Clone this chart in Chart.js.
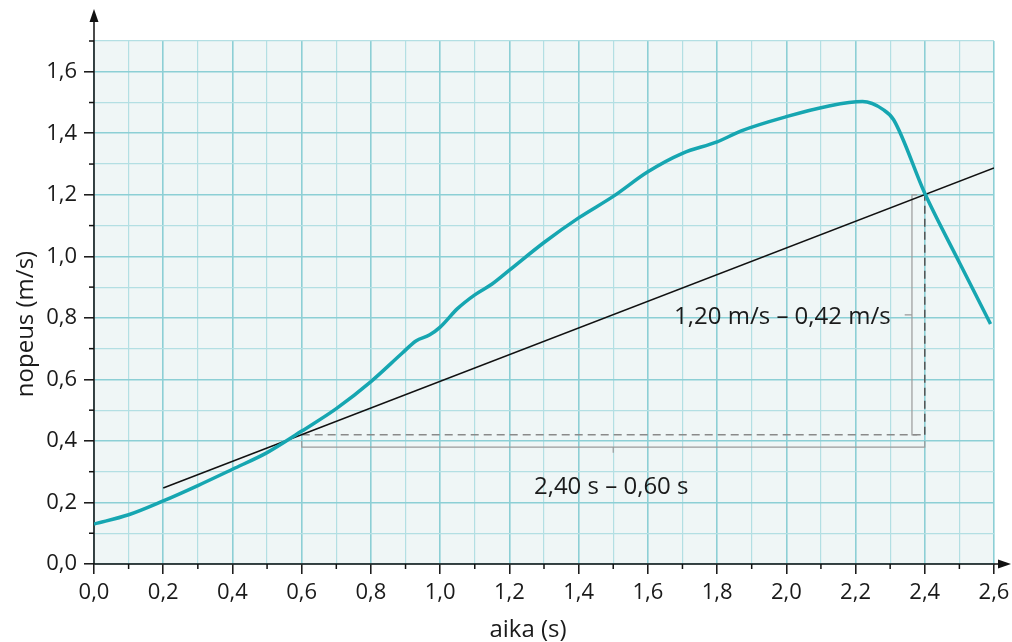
<!DOCTYPE html>
<html lang="fi">
<head>
<meta charset="utf-8">
<title>nopeus – aika</title>
<script src="https://cdn.jsdelivr.net/npm/chart.js@4.4.1/dist/chart.umd.min.js"></script>
<style>
  html, body { margin: 0; padding: 0; background: #fff; }
  #wrap { width: 1012px; height: 642px; }
</style>
</head>
<body>
<div id="wrap"><canvas id="chart" width="1012" height="642"></canvas></div>
<script>
// mittaus: aika (s) ja nopeus (m/s), luettu kuvaajasta
var aika   = [0, 0.1, 0.2, 0.3, 0.4, 0.5, 0.6, 0.7, 0.8, 0.89, 0.93, 0.97, 1.0, 1.05, 1.1, 1.15, 1.2,
              1.3, 1.4, 1.5, 1.6, 1.7, 1.8, 1.87, 2.0, 2.12, 2.22, 2.28, 2.31, 2.4, 2.5, 2.59];
var nopeus = [0.13, 0.16, 0.205, 0.255, 0.308, 0.362, 0.432, 0.505, 0.593, 0.685, 0.725, 0.745, 0.77, 0.83, 0.875, 0.91, 0.955,
              1.045, 1.125, 1.195, 1.275, 1.335, 1.372, 1.408, 1.454, 1.488, 1.503, 1.477, 1.444, 1.205, 0.98, 0.78];

// tangentti
var tangAika   = [0.2, 2.6];
var tangNopeus = [0.247, 1.287];

// apuviivat (katkoviivat)
var vaakaX = [0.6, 2.4];
var vaakaY = [0.42, 0.42];
var pystyX = [2.4, 2.4];
var pystyY = [0.42, 1.2];

// hakasulkeet
var hSulkuX = [0.6, 0.6, 1.5, 1.5, 1.5, 2.4, 2.4];
var hSulkuY = [0.40, 0.38, 0.38, 0.362, 0.38, 0.38, 0.40];
var pSulkuX = [2.378, 2.363, 2.363, 2.342, 2.363, 2.363, 2.378];
var pSulkuY = [1.2, 1.2, 0.81, 0.81, 0.81, 0.42, 0.42];

// akselien merkinnät
var xLabels = ['0,0', '0,2', '0,4', '0,6', '0,8', '1,0', '1,2', '1,4', '1,6', '1,8', '2,0', '2,2', '2,4', '2,6'];
var yLabels = ['0,0', '0,2', '0,4', '0,6', '0,8', '1,0', '1,2', '1,4', '1,6'];
var dyTeksti = '1,20 m/s – 0,42 m/s';
var dxTeksti = '2,40 s – 0,60 s';

function pisteet(xs, ys) {
  return xs.map(function (x, i) { return { x: x, y: ys[i] }; });
}

function onPaa(v) {
  return Math.round(v * 10) % 2 === 0;
}

var FONTTI = '"Open Sans", "Noto Sans", sans-serif';

var piirto = {
  id: 'piirto',
  beforeDraw: function (chart) {
    var a = chart.chartArea, ctx = chart.ctx;
    ctx.save();
    ctx.fillStyle = '#eff6f6';
    ctx.fillRect(a.left, a.top, a.right - a.left, a.bottom - a.top);
    ctx.restore();
  },
  beforeDatasetsDraw: function (chart) {
    var a = chart.chartArea, ctx = chart.ctx;
    var xs = chart.scales.x, ys = chart.scales.y;
    ctx.save();
    ctx.strokeStyle = '#111';
    ctx.fillStyle = '#111';
    ctx.lineWidth = 1.5;
    // pienet jakoviivat
    xs.ticks.forEach(function (t) {
      if (onPaa(t.value)) return;
      var px = xs.getPixelForValue(t.value);
      ctx.beginPath(); ctx.moveTo(px, a.bottom); ctx.lineTo(px, a.bottom + 5); ctx.stroke();
    });
    ys.ticks.forEach(function (t) {
      if (onPaa(t.value)) return;
      var py = ys.getPixelForValue(t.value);
      ctx.beginPath(); ctx.moveTo(a.left, py); ctx.lineTo(a.left - 5, py); ctx.stroke();
    });
    // akselit nuolineen
    ctx.beginPath();
    ctx.moveTo(a.left, a.bottom); ctx.lineTo(a.left, 18);
    ctx.moveTo(a.left, a.bottom); ctx.lineTo(1004, a.bottom);
    ctx.stroke();
    ctx.beginPath();
    ctx.moveTo(a.left, 9); ctx.lineTo(a.left - 4.5, 22); ctx.lineTo(a.left + 4.5, 22); ctx.closePath();
    ctx.fill();
    ctx.beginPath();
    ctx.moveTo(1011, a.bottom); ctx.lineTo(998, a.bottom - 4.5); ctx.lineTo(998, a.bottom + 4.5); ctx.closePath();
    ctx.fill();

    // akselien nimet
    ctx.fillStyle = '#1a1a1a';
    ctx.font = '24px ' + FONTTI;
    ctx.textAlign = 'center';
    ctx.textBaseline = 'alphabetic';
    ctx.fillText('aika (s)', 528, 637);
    ctx.translate(33, 324);
    ctx.rotate(-Math.PI / 2);
    ctx.fillText('nopeus (m/s)', 0, 0);
    ctx.restore();
  },
  afterDatasetsDraw: function (chart) {
    var ctx = chart.ctx;
    var xs = chart.scales.x, ys = chart.scales.y;
    ctx.save();
    ctx.fillStyle = '#1a1a1a';
    ctx.font = '24px ' + FONTTI;
    ctx.textBaseline = 'alphabetic';
    ctx.textAlign = 'right';
    ctx.fillText(dyTeksti, xs.getPixelForValue(pSulkuX[3]) - 14, ys.getPixelForValue(pSulkuY[3]) + 9);
    ctx.textAlign = 'center';
    ctx.fillText(dxTeksti, xs.getPixelForValue(hSulkuX[3]) - 2, ys.getPixelForValue(hSulkuY[3]) + 41);
    ctx.restore();
  }
};

var ctx = document.getElementById('chart').getContext('2d');
new Chart(ctx, {
  type: 'scatter',
  data: {
    datasets: [
      {
        data: pisteet(aika, nopeus),
        showLine: true,
        borderColor: '#16a6b1',
        borderWidth: 3.5,
        pointRadius: 0,
        cubicInterpolationMode: 'monotone'
      },
      {
        data: pisteet(tangAika, tangNopeus),
        showLine: true,
        borderColor: '#111',
        borderWidth: 1.5,
        pointRadius: 0
      },
      {
        data: pisteet(pystyX, pystyY),
        showLine: true,
        borderColor: '#555',
        borderWidth: 1.5,
        borderDash: [8, 5],
        pointRadius: 0
      },
      {
        data: pisteet(vaakaX, vaakaY),
        showLine: true,
        borderColor: '#8a8a8a',
        borderWidth: 1.6,
        borderDash: [8, 5],
        pointRadius: 0
      },
      {
        data: pisteet(hSulkuX, hSulkuY),
        showLine: true,
        borderColor: '#9a9a9a',
        borderWidth: 1.2,
        pointRadius: 0
      },
      {
        data: pisteet(pSulkuX, pSulkuY),
        showLine: true,
        borderColor: '#9a9a9a',
        borderWidth: 1.2,
        pointRadius: 0
      }
    ]
  },
  options: {
    responsive: false,
    animation: false,
    devicePixelRatio: 1,
    layout: { padding: { top: 41, right: 18, left: 0, bottom: 0 } },
    plugins: { legend: { display: false }, tooltip: { enabled: false } },
    scales: {
      x: {
        type: 'linear',
        min: 0,
        max: 2.6,
        afterFit: function (s) { s.height = 78; s.paddingLeft = 0; s.paddingRight = 0; },
        border: { display: false },
        grid: {
          color: function (c) { return onPaa(c.tick.value) ? '#8ccfd5' : '#b3dfe3'; },
          lineWidth: function (c) { return onPaa(c.tick.value) ? 1.6 : 1.2; },
          tickColor: function (c) { return onPaa(c.tick.value) ? '#111' : 'rgba(0,0,0,0)'; },
          tickWidth: 1.5,
          tickLength: 10
        },
        ticks: {
          stepSize: 0.1,
          autoSkip: false,
          maxRotation: 0,
          padding: 6,
          color: '#1a1a1a',
          font: { family: FONTTI, size: 22 },
          callback: function (v) {
            return onPaa(v) ? xLabels[Math.round(v * 5)] : '';
          }
        }
      },
      y: {
        type: 'linear',
        min: 0,
        max: 1.7,
        afterFit: function (s) { s.width = 94; s.paddingTop = 0; s.paddingBottom = 0; },
        border: { display: false },
        grid: {
          color: function (c) { return onPaa(c.tick.value) ? '#8ccfd5' : '#b3dfe3'; },
          lineWidth: function (c) { return onPaa(c.tick.value) ? 1.6 : 1.2; },
          tickColor: function (c) { return onPaa(c.tick.value) ? '#111' : 'rgba(0,0,0,0)'; },
          tickWidth: 1.5,
          tickLength: 10
        },
        ticks: {
          stepSize: 0.1,
          autoSkip: false,
          padding: 7,
          color: '#1a1a1a',
          font: { family: FONTTI, size: 22 },
          callback: function (v) {
            return onPaa(v) ? (yLabels[Math.round(v * 5)] || '') : '';
          }
        }
      }
    }
  },
  plugins: [piirto]
});
</script>
</body>
</html>
